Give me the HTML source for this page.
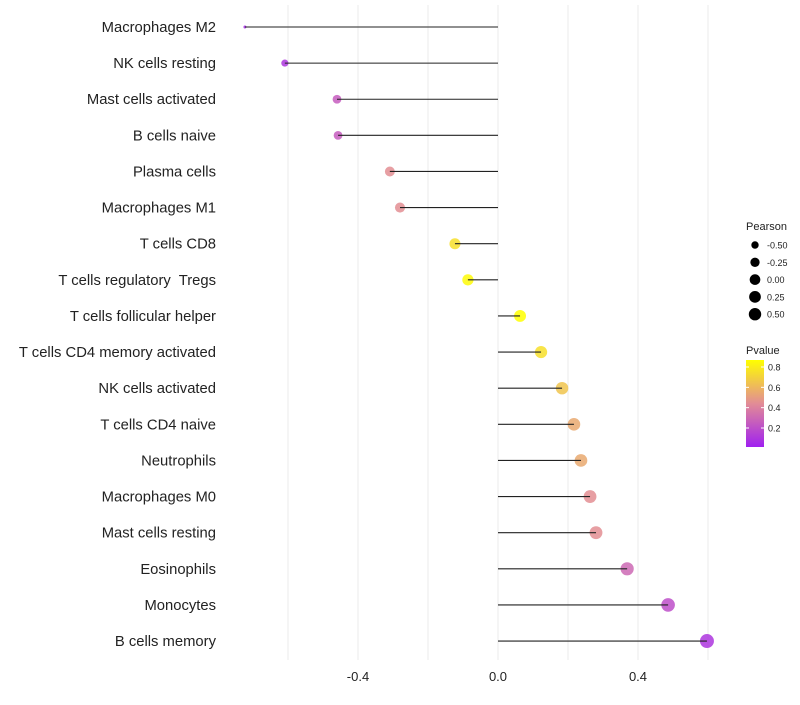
<!DOCTYPE html>
<html><head><meta charset="utf-8"><style>
body{margin:0;background:#fff;font-family:"Liberation Sans",sans-serif}
text{white-space:pre}
</style></head><body>
<svg id="c" width="800" height="700" xmlns="http://www.w3.org/2000/svg"></svg>
<script>
const categories=["Macrophages M2","NK cells resting","Mast cells activated","B cells naive","Plasma cells","Macrophages M1","T cells CD8","T cells regulatory  Tregs","T cells follicular helper","T cells CD4 memory activated","NK cells activated","T cells CD4 naive","Neutrophils","Macrophages M0","Mast cells resting","Eosinophils","Monocytes","B cells memory"];
const pearson=[-0.723,-0.609,-0.46,-0.457,-0.309,-0.28,-0.123,-0.086,0.063,0.123,0.183,0.217,0.237,0.263,0.28,0.369,0.486,0.597];
const pvalue=[0.05,0.1,0.25,0.25,0.45,0.45,0.75,0.85,0.87,0.75,0.65,0.55,0.55,0.45,0.45,0.3,0.2,0.1];
const xTicks=[-0.4,0,0.4];
const xTickLabels=["-0.4","0.0","0.4"];
const sizeLegend=[-0.5,-0.25,0,0.25,0.5];
const colorLegend=[0.8,0.6,0.4,0.2];
const NS="http://www.w3.org/2000/svg",svg=document.getElementById('c');
function el(t,a,p){const e=document.createElementNS(NS,t);for(const k in a)e.setAttribute(k,a[k]);(p||svg).appendChild(e);return e;}
const x=v=>498+v*350, y=i=>27+i*36.12;
const vMin=Math.min(...pearson),vMax=Math.max(...pearson);
const r=v=>1.5+5.5*Math.pow(Math.max(0,(v-vMin)/(vMax-vMin)),0.4);
const pMin=0.013,pMax=0.869;
function col(p){const t=Math.min(1,Math.max(0,(p-pMin)/(pMax-pMin)));
 const s=[[160,32,240],[226,140,150],[255,255,0]];let a,b,u;
 if(t<0.5){a=s[0];b=s[1];u=t/0.5}else{a=s[1];b=s[2];u=(t-0.5)/0.5}
 return `rgb(${a.map((c,k)=>Math.round(c+(b[k]-c)*u)).join(',')})`;}
for(let g=-0.6;g<=0.61;g+=0.2){const gl=el('line',{x1:x(g),x2:x(g),y1:5,y2:660,stroke:'#ebebeb','stroke-width':1});
}
xTicks.forEach((v,i)=>{const t=el('text',{x:x(v),y:681,'text-anchor':'middle','font-size':13,fill:'#222'});t.textContent=xTickLabels[i];
});
categories.forEach((c,i)=>{
 const t=el('text',{x:216,y:y(i)+5,'text-anchor':'end','font-size':14.8,fill:'#222'});t.textContent=c;
 
 const d=el('circle',{cx:x(pearson[i]),cy:y(i),r:r(pearson[i]),fill:col(pvalue[i]),'fill-opacity':0.85});
 
 const l=el('line',{x1:x(0),x2:x(pearson[i]),y1:y(i),y2:y(i),stroke:'#222','stroke-width':1.1});
 
});
let t=el('text',{x:746,y:230,'font-size':11,fill:'#222'});t.textContent='Pearson';

sizeLegend.forEach((v,i)=>{const cy=245+i*17.3;
 const d=el('circle',{cx:755,cy:cy,r:Math.min(6.2,r(v)-0.5),fill:'#000'});
 const tt=el('text',{x:767,y:cy+3.5,'font-size':9,fill:'#222'});tt.textContent=v.toFixed(2);
 });
t=el('text',{x:746,y:354,'font-size':11,fill:'#222'});t.textContent='Pvalue';

const defs=el('defs',{});const gr=el('linearGradient',{id:'g',x1:0,y1:1,x2:0,y2:0},defs);
for(let k=0;k<=10;k++)el('stop',{offset:k/10,'stop-color':col(pMin+(pMax-pMin)*k/10)},gr);
const cb=el('rect',{x:746,y:360,width:18,height:87,fill:'url(#g)'});
const py=p=>447-(p-pMin)/(pMax-pMin)*87;
colorLegend.forEach(v=>{el('line',{x1:746,x2:749,y1:py(v),y2:py(v),stroke:'#fff'});el('line',{x1:761,x2:764,y1:py(v),y2:py(v),stroke:'#fff'});
 const tt=el('text',{x:768,y:py(v)+3.5,'font-size':9,fill:'#222'});tt.textContent=v.toFixed(1);
 });
</script></body></html>
